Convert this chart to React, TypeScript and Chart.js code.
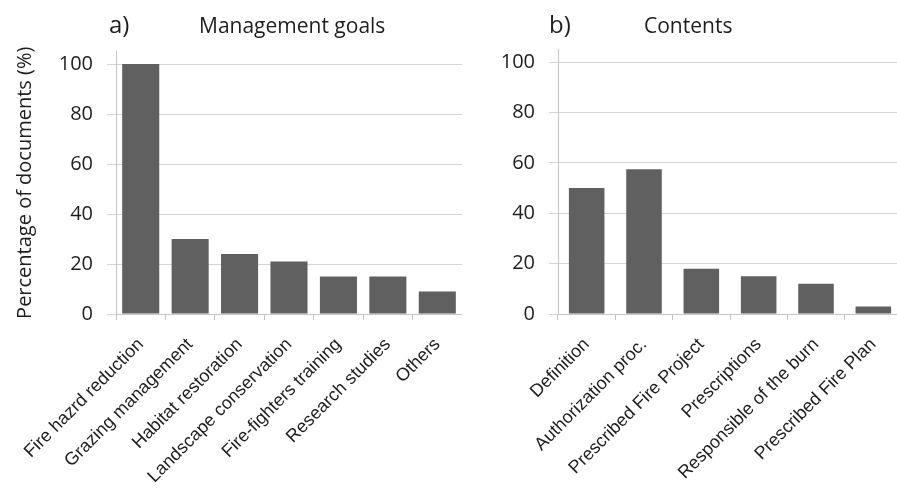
import React, { useEffect, useRef } from "react";
import { Chart, registerables } from "chart.js";

Chart.register(...registerables);

const goalLabels = [
  "Fire hazrd reduction",
  "Grazing management",
  "Habitat restoration",
  "Landscape conservation",
  "Fire-fighters training",
  "Research studies",
  "Others",
];
const goalValues = [100, 30, 24, 21, 15, 15, 9];

const contentLabels = [
  "Definition",
  "Authorization proc.",
  "Prescribed Fire Project",
  "Prescriptions",
  "Responsible of the burn",
  "Prescribed Fire Plan",
];
const contentValues = [50, 57.5, 18, 15, 12, 3];

const yTickValues = [0, 20, 40, 60, 80, 100];
const yTitle = "Percentage of documents (%)";

const BAR = "#606060";
const GRID = "#d4d4d4";
const AXIS = "#c4c4c4";
const TEXT = "#1e1e1e";

function makeConfig(labels: string[], values: number[], opts: any) {
  return {
    type: "bar" as const,
    data: {
      labels,
      datasets: [
        {
          data: values,
          backgroundColor: BAR,
          borderWidth: 0,
          categoryPercentage: 1,
          barPercentage: opts.barPct,
        },
      ],
    },
    options: {
      animation: false,
      responsive: false,
      maintainAspectRatio: false,
      events: [],
      layout: { padding: { top: opts.top, left: 0, right: 0, bottom: 0 } },
      plugins: { legend: { display: false }, tooltip: { enabled: false }, title: { display: false } },
      scales: {
        x: {
          offset: true,
          grid: {
            offset: true,
            drawOnChartArea: false,
            drawTicks: true,
            tickLength: 6,
            color: AXIS,
          },
          border: { display: true, color: AXIS, width: 1 },
          ticks: {
            autoSkip: false,
            minRotation: 45,
            maxRotation: 45,
            padding: 14,
            color: TEXT,
            font: { family: "'Liberation Sans', Arial, sans-serif", size: 18 },
          },
          afterFit: (s: any) => {
            s.height = opts.xHeight;
            s.paddingLeft = 0;
            s.paddingRight = 0;
          },
        },
        y: {
          min: 0,
          max: 105,
          afterBuildTicks: (s: any) => {
            s.ticks = yTickValues.map((v) => ({ value: v }));
          },
          grid: {
            color: GRID,
            tickLength: 9,
            lineWidth: 1,
          },
          border: { display: true, color: AXIS, width: 1 },
          ticks: {
            padding: 14,
            color: TEXT,
            font: { family: "'Open Sans', sans-serif", size: 20 },
          },
          title: {
            display: !!opts.yTitle,
            text: opts.yTitle || "",
            color: TEXT,
            font: { family: "'Open Sans', sans-serif", size: 20 },
            padding: { top: 13, bottom: 0 },
          },
          afterFit: (s: any) => {
            s.width = opts.yWidth;
            s.paddingTop = 0;
            s.paddingBottom = 0;
          },
        },
      },
    },
  };
}

function Panel(props: {
  left: number;
  width: number;
  labels: string[];
  values: number[];
  opts: any;
}) {
  const ref = useRef<HTMLCanvasElement | null>(null);
  useEffect(() => {
    if (!ref.current) return;
    const chart = new Chart(ref.current, makeConfig(props.labels, props.values, props.opts) as any);
    return () => chart.destroy();
  }, []);
  return (
    <canvas
      ref={ref}
      width={props.width}
      height={489}
      style={{ position: "absolute", left: props.left, top: 0, width: props.width, height: 489 }}
    />
  );
}

const labelStyle: React.CSSProperties = {
  position: "absolute",
  fontFamily: "'Open Sans', sans-serif",
  color: TEXT,
  whiteSpace: "nowrap",
  lineHeight: 1,
};

export default function App() {
  return (
    <div
      style={{
        position: "absolute",
        left: 0,
        top: 0,
        width: 897,
        height: 489,
        overflow: "hidden",
        background: "#ffffff",
      }}
    >
      <Panel
        left={0}
        width={462}
        labels={goalLabels}
        values={goalValues}
        opts={{ barPct: 0.75, top: 51.5, xHeight: 489 - 314, yWidth: 116, yTitle }}
      />
      <Panel
        left={462}
        width={440}
        labels={contentLabels}
        values={contentValues}
        opts={{ barPct: 0.62, top: 49.5, xHeight: 489 - 314, yWidth: 96, yTitle: "" }}
      />
      <div style={{ ...labelStyle, left: 109, top: 12, fontSize: 24 }}>a)</div>
      <div style={{ ...labelStyle, left: 199, top: 15, fontSize: 21 }}>Management goals</div>
      <div style={{ ...labelStyle, left: 549, top: 12, fontSize: 24 }}>b)</div>
      <div style={{ ...labelStyle, left: 644, top: 15, fontSize: 21 }}>Contents</div>
    </div>
  );
}
